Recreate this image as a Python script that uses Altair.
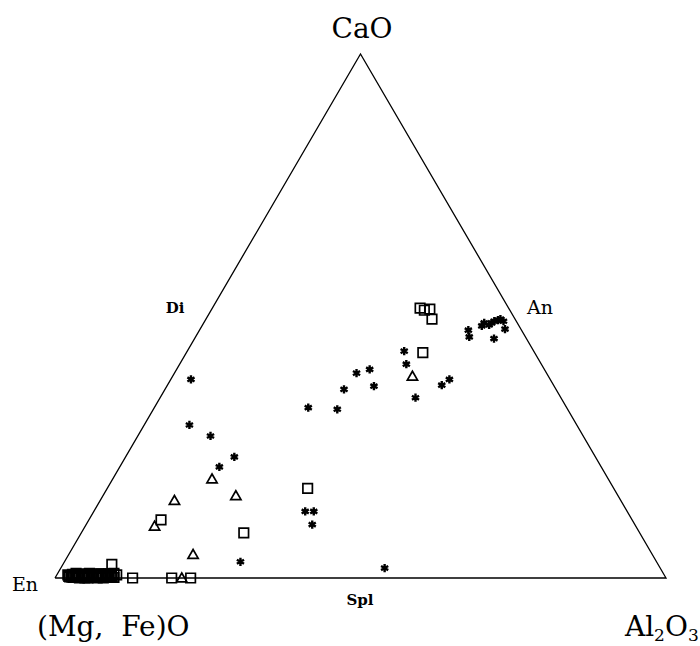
import altair as alt
import pandas as pd
import numpy as np

# Ternary compositions in percent: CaO and Al2O3 (remainder is (Mg,Fe)O)
star_cao = [37.9, 29.2, 27.1, 23.1, 21.2, 3.1, 43.3, 40.8, 39.1, 39.8, 36.0, 36.6,
            34.4, 36.8, 37.9, 32.5, 32.2, 12.7, 12.7, 10.2, 1.9,
            47.3, 46.0, 48.1, 48.7, 49.0, 49.2, 49.4, 49.0, 47.5, 45.7, 48.7, 48.3]
star_al = [3.3, 7.4, 11.9, 17.8, 16.3, 28.8, 35.5, 37.1, 29.8, 31.6, 29.3, 33.9,
           41.8, 44.9, 45.6, 25.2, 30.1, 34.6, 36.0, 37.0, 53.0,
           44.0, 44.8, 45.8, 45.9, 47.4, 47.9, 48.2, 48.9, 49.9, 49.0, 47.1, 46.9]

tri_cao = [19.0, 14.9, 15.8, 10.0, 4.6, 0.1, 38.6]
tri_al = [16.2, 12.1, 21.7, 11.3, 20.3, 20.7, 39.2]

sq_cao = [11.1, 8.6, 17.1, 51.5, 51.1, 51.3, 49.4, 43.0, 2.6, 0.0, 0.0, 0.0, 0.7,
          0.6, 0.2, 0.5, 0.1, 0.4, 0.0, 0.6, 0.2, 0.4, 0.0, 0.5, 0.2, 0.3, 0.0,
          0.4, 0.1, 0.5, 0.2, 0.3, 0.1, 0.9, 0.9, 0.8, 0.8, 0.9,
          0.3, 0.7, 0.1, 0.6, 0.2, 0.8, 0.4, 0.0, 0.7, 0.3, 0.5, 0.1, 0.6, 0.2,
          0.8, 0.4, 0.0, 0.7, 0.3, 0.5, 0.1, 0.6, 0.2, 0.4]
sq_al = [11.8, 26.6, 32.8, 34.0, 34.9, 35.7, 37.0, 38.7, 8.0, 12.7, 19.1, 22.2, 8.4,
         1.8, 2.3, 2.8, 3.2, 3.6, 4.0, 4.3, 4.7, 5.0, 5.4, 5.7, 6.1, 6.5, 6.9,
         7.3, 7.7, 8.2, 8.6, 9.1, 9.6, 3.0, 5.2, 6.7, 8.4, 9.2,
         2.1, 2.5, 2.9, 3.4, 3.8, 4.1, 4.5, 4.9, 5.1, 5.5, 5.9, 6.3, 6.6, 7.0,
         7.1, 7.5, 7.9, 8.0, 8.4, 8.8, 9.3, 9.8, 2.6, 3.5]

# Triangle vertices (CaO %, Al2O3 %)
vert_cao = [0, 0, 100, 0]
vert_al = [0, 100, 0, 0]


def to_xy(cao, al):
    c = np.array(cao) / 100.0
    a = np.array(al) / 100.0
    return a + c / 2.0, c


def frame(cao, al, kind):
    x, y = to_xy(cao, al)
    return pd.DataFrame({"x": x, "y": y, "kind": kind})


stars = frame(star_cao, star_al, "star")
tris = frame(tri_cao, tri_al, "tri")
sqs = frame(sq_cao, sq_al, "sq")
vx, vy = to_xy(vert_cao, vert_al)
verts = pd.DataFrame({"x": vx, "y": vy, "o": range(4)})

X = alt.Scale(domain=[-0.09002, 1.05565], nice=False, zero=False)
Y = alt.Scale(domain=[-0.12977, 1.10305], nice=False, zero=False)

xenc = alt.X("x:Q", scale=X, axis=None)
yenc = alt.Y("y:Q", scale=Y, axis=None)

tri_line = alt.Chart(verts).mark_line(color="black", strokeWidth=1.3).encode(
    x=xenc, y=yenc, order="o:Q")

star_path = "M0,-1L0,1M-0.87,-0.5L0.87,0.5M-0.87,0.5L0.87,-0.5"
star_layer = alt.Chart(stars).mark_point(
    shape=star_path, filled=False, color="black", strokeWidth=2.4, size=68, opacity=1
).encode(x=xenc, y=yenc)

sq_layer = alt.Chart(sqs).mark_point(
    shape="square", filled=False, color="black", strokeWidth=1.7, size=90, opacity=1
).encode(x=xenc, y=yenc)

tri_layer = alt.Chart(tris).mark_point(
    shape="triangle-up", filled=False, color="black", strokeWidth=1.7, size=105, opacity=1
).encode(x=xenc, y=yenc)

SERIF = "DejaVu Serif"
NB = "\u00a0"
big_labels = pd.DataFrame({
    "x": [0.5025, -0.0295, 0.9329, 0.9984],
    "y": [1.0305, -0.1107, -0.1107, -0.1107],
    "t": ["CaO", "(Mg," + NB + NB + "Fe)O", "Al", "O"],
    "a": ["center", "left", "left", "left"],
})
sub_labels = pd.DataFrame({
    "x": [0.9804, 1.0360],
    "y": [-0.1210, -0.1210],
    "t": ["2", "3"],
})
small_bold = pd.DataFrame({
    "x": [0.1964, 0.4992],
    "y": [0.5153, -0.042],
    "t": ["Di", "Spl"],
})
small_reg = pd.DataFrame({
    "x": [0.7938, -0.0491],
    "y": [0.5153, -0.0134],
    "t": ["An", "En"],
})

big_center = alt.Chart(big_labels[big_labels.a == "center"]).mark_text(
    font=SERIF, fontSize=28, align="center", baseline="alphabetic", color="black"
).encode(x=xenc, y=yenc, text="t:N")
big_left = alt.Chart(big_labels[big_labels.a == "left"]).mark_text(
    font=SERIF, fontSize=28, align="left", baseline="alphabetic", color="black"
).encode(x=xenc, y=yenc, text="t:N")
subs = alt.Chart(sub_labels).mark_text(
    font=SERIF, fontSize=17, align="left", baseline="alphabetic", color="black"
).encode(x=xenc, y=yenc, text="t:N")
sb = alt.Chart(small_bold).mark_text(
    font=SERIF, fontSize=15, fontWeight="bold", align="center", baseline="middle", color="black"
).encode(x=xenc, y=yenc, text="t:N")
sr = alt.Chart(small_reg).mark_text(
    font=SERIF, fontSize=19, align="center", baseline="middle", color="black"
).encode(x=xenc, y=yenc, text="t:N")

chart = alt.layer(
    tri_line, sq_layer, tri_layer, star_layer, big_center, big_left, subs, sb, sr
).properties(
    width=700, height=646, padding=0, autosize=alt.AutoSizeParams(type="none"),
    background="white"
).configure_view(stroke=None)

chart.save("out.html", embed_options={"renderer": "svg", "actions": False})
